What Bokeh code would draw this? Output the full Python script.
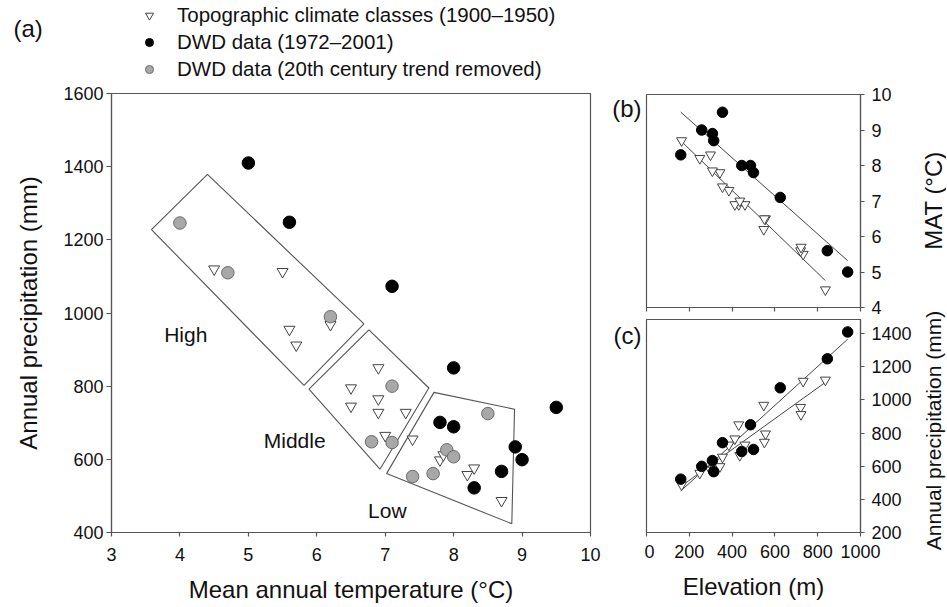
import math
import numpy as np
from bokeh.plotting import figure
from bokeh.layouts import row, column
from bokeh.models import Range1d, FixedTicker, Label, Legend, LegendItem, CustomJSTickFormatter
from bokeh.embed import file_html
from bokeh.resources import INLINE

FONT = "Liberation Sans"
AX = "#555555"
TXT = "#111111"

# ---------------- data ----------------
# Topographic climate classes (1900-1950)
topo_temp = [4.5, 5.5, 5.6, 5.7, 6.2, 6.5, 6.5, 6.9, 6.9, 6.9, 7.3, 7.0, 7.4, 7.8, 7.85, 8.3, 8.2, 8.7]
topo_precip = [1120, 1113, 955, 912, 968, 795, 745, 850, 765, 728, 728, 665, 655, 598, 612, 576, 558, 487]
topo_elev = [836, 732, 720, 722, 548, 556, 551, 431, 413, 460, 385, 436, 355, 343, 308, 299, 249, 164]

# DWD data (1972-2001)
dwd_temp = [5.0, 5.6, 7.1, 8.0, 9.5, 7.8, 8.0, 8.9, 9.0, 8.7, 8.3]
dwd_precip = [1410, 1248, 1073, 850, 742, 701, 689, 634, 599, 567, 522]
dwd_elev = [940, 845, 625, 486, 355, 500, 445, 308, 258, 314, 160]

# DWD data (20th century trend removed)
detr_temp = [4.0, 4.7, 6.2, 7.1, 6.8, 7.1, 8.5, 7.9, 8.0, 7.4, 7.7]
detr_precip = [1246, 1110, 990, 800, 648, 646, 725, 626, 607, 553, 561]

# class boxes (temperature, precipitation corners)
high_box_t = [3.584, 4.402, 6.689, 5.813]
high_box_p = [1228, 1379, 970, 802]
mid_box_t = [6.762, 7.638, 6.923, 5.886]
mid_box_p = [954, 795, 573, 792]
low_box_t = [7.712, 8.89, 8.85, 7.02]
low_box_p = [783, 737, 424, 561]

zone_names = ["High", "Middle", "Low"]
zone_t = [4.085, 5.677, 7.031]
zone_p = [941, 651, 461]

legend_labels = ["Topographic climate classes (1900\u20131950)",
                 "DWD data (1972\u20132001)",
                 "DWD data (20th century trend removed)"]

a_xticks = [3, 4, 5, 6, 7, 8, 9, 10]
a_yticks = [400, 600, 800, 1000, 1200, 1400, 1600]
elev_ticks = [0, 200, 400, 600, 800, 1000]
mat_ticks = [4, 5, 6, 7, 8, 9, 10]
c_yticks = [200, 400, 600, 800, 1000, 1200, 1400]

TRI = dict(marker="inverted_triangle", fill_color="white", line_color="#444444", line_width=1)
BLK = dict(marker="circle", fill_color="black", line_color="black")
GRY = dict(marker="circle", fill_color="#a8a8a8", line_color="#6a6a6a", line_width=1)


def fit_line(x, y):
    k, b = np.polyfit(x, y, 1)
    xs = np.array([min(x), max(x)], dtype=float)
    return xs, k * xs + b


def style_axis(ax, ticks, tick_size="18px", standoff=6, tick_out=5):
    ax.ticker = FixedTicker(ticks=ticks)
    ax.axis_line_color = AX
    ax.axis_line_width = 1.2
    ax.major_tick_line_color = AX
    ax.major_tick_line_width = 1.2
    ax.minor_tick_line_color = None
    ax.major_tick_in = 0
    ax.major_tick_out = tick_out
    ax.major_label_text_font = FONT
    ax.major_label_text_font_size = tick_size
    ax.major_label_text_color = TXT
    ax.major_label_standoff = standoff
    ax.axis_label_text_font = FONT
    ax.axis_label_text_font_style = "normal"
    ax.axis_label_text_font_size = "24px"
    ax.axis_label_text_color = TXT


def base_fig(w, h, xr, yr, bl, br, bt, bb, yloc="left"):
    p = figure(width=w, height=h, x_range=xr, y_range=yr,
               min_border_left=bl, min_border_right=br,
               min_border_top=bt, min_border_bottom=bb,
               y_axis_location=yloc,
               output_backend="svg", toolbar_location=None)
    p.xgrid.visible = False
    p.ygrid.visible = False
    p.outline_line_color = AX
    p.outline_line_width = 1.2
    p.background_fill_color = "white"
    p.border_fill_color = "white"
    return p


def blank_fig(w, h):
    p = figure(width=w, height=h, x_range=Range1d(0, 1), y_range=Range1d(0, 1),
               min_border=0, x_axis_location=None, y_axis_location=None,
               output_backend="svg", toolbar_location=None)
    p.xgrid.visible = False
    p.ygrid.visible = False
    p.outline_line_color = None
    p.background_fill_color = "white"
    p.border_fill_color = "white"
    return p


def text_label(x, y, text, size="24px", align="left", angle=0.0):
    return Label(x=x, y=y, x_units="screen", y_units="screen", text=text,
                 text_align=align, text_baseline="middle", angle=angle,
                 text_font=FONT, text_font_size=size, text_color=TXT)


# ---------------- header with legend and (a) ----------------
ha = blank_fig(946, 81)
# the series are drawn here only to feed the legend; they fall outside this strip's ranges
h_tri = ha.scatter(topo_temp, topo_precip, size=11, **TRI)
h_blk = ha.scatter(dwd_temp, dwd_precip, size=11, **BLK)
h_gry = ha.scatter(detr_temp, detr_precip, size=11, **GRY)
legend = Legend(items=[LegendItem(label=lab_text, renderers=[r]) for lab_text, r in
                       zip(legend_labels, [h_tri, h_blk, h_gry])],
                location=(139, 0))
legend.border_line_color = None
legend.background_fill_alpha = 0
legend.label_text_font = FONT
legend.label_text_font_size = "20.5px"
legend.label_text_color = TXT
legend.glyph_width = 20
legend.glyph_height = 22
legend.label_height = 22
legend.spacing = 3
legend.padding = 0
legend.margin = 0
legend.label_standoff = 18
ha.add_layout(legend, "center")
ha.add_layout(text_label(13, 53, "(a)"))

# ---------------- panel (a) ----------------
pa = base_fig(606, 526, Range1d(3, 10), Range1d(400, 1600), 111, 16, 12, 75)
style_axis(pa.xaxis[0], a_xticks, standoff=11, tick_out=4)
style_axis(pa.yaxis[0], a_yticks, standoff=3)
pa.xaxis[0].axis_label = "Mean annual temperature (\u00b0C)"
pa.xaxis[0].axis_label_standoff = 12
pa.yaxis[0].axis_label = "Annual precipitation (mm)"
pa.yaxis[0].axis_label_standoff = 18

pa.patches([high_box_t, mid_box_t, low_box_t], [high_box_p, mid_box_p, low_box_p],
           fill_color=None, line_color=AX, line_width=1.1)

pa.scatter(topo_temp, topo_precip, size=11, **TRI)
pa.scatter(dwd_temp, dwd_precip, size=12.5, **BLK)
pa.scatter(detr_temp, detr_precip, size=12.5, **GRY)

for name, t, pr in zip(zone_names, zone_t, zone_p):
    pa.add_layout(Label(x=t, y=pr, text=name, text_align="center", text_baseline="middle",
                        text_font=FONT, text_font_size="21px", text_color=TXT))

# ---------------- strip with (b) and (c) ----------------
lab = blank_fig(38, 526)
lab.add_layout(text_label(35, 499, "(b)", align="right"))
lab.add_layout(text_label(35, 272, "(c)", align="right"))

# ---------------- panel (b) ----------------
pb = base_fig(272, 237, Range1d(0, 1000), Range1d(4, 10), 2, 56, 13, 11, yloc="right")
style_axis(pb.xaxis[0], elev_ticks, tick_size="1px", standoff=0, tick_out=4)
pb.xaxis[0].formatter = CustomJSTickFormatter(code="return ''")
style_axis(pb.yaxis[0], mat_ticks, standoff=7, tick_out=4)

xs, ys = fit_line(dwd_elev, dwd_temp)
pb.line(xs, ys, line_color="#444444", line_width=1)
xs, ys = fit_line(topo_elev, topo_temp)
pb.line(xs, ys, line_color="#444444", line_width=1)
pb.scatter(topo_elev, topo_temp, size=10, **TRI)
pb.scatter(dwd_elev, dwd_temp, size=10.5, **BLK)

# ---------------- panel (c) ----------------
pc = base_fig(272, 289, Range1d(0, 1000), Range1d(200, 1485), 2, 56, 1, 75, yloc="right")
style_axis(pc.xaxis[0], elev_ticks, standoff=8, tick_out=4)
pc.xaxis[0].axis_label = "Elevation (m)"
pc.xaxis[0].axis_label_standoff = 12
style_axis(pc.yaxis[0], c_yticks, standoff=7, tick_out=4)

xs, ys = fit_line(dwd_elev, dwd_precip)
pc.line(xs, ys, line_color="#444444", line_width=1)
xs, ys = fit_line(topo_elev, topo_precip)
pc.line(xs, ys, line_color="#444444", line_width=1)
pc.scatter(topo_elev, topo_precip, size=10, **TRI)
pc.scatter(dwd_elev, dwd_precip, size=10.5, **BLK)

# ---------------- strip with right-hand axis titles ----------------
rt = blank_fig(30, 526)
rt.add_layout(text_label(17, 407, "MAT (\u00b0C)", size="24px", align="center", angle=math.pi / 2))
rt.add_layout(text_label(17, 177, "Annual precipitation (mm)", size="21px", align="center",
                         angle=math.pi / 2))

layout = column(ha, row(column(pa), lab, column(pb, pc), rt))
open("out.html", "w").write(file_html(layout, INLINE))
